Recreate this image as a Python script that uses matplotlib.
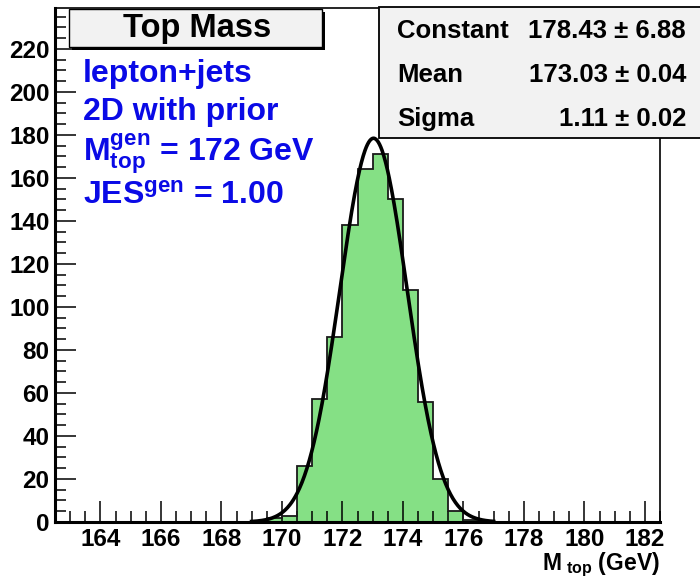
import matplotlib
matplotlib.use('Agg')
import matplotlib.pyplot as plt
from matplotlib.patches import Rectangle
from matplotlib.ticker import MultipleLocator
import numpy as np

# histogram binning and contents
bin_lo = 162.5
bin_hi = 182.5
n_bins = 40
counts = [0, 0, 0, 0, 0, 0, 0, 0, 0, 0,
          0, 0, 0, 0, 2, 3, 26, 57, 86, 138,
          164, 171, 150, 108, 56, 20, 5, 1, 0, 0,
          0, 0, 0, 0, 0, 0, 0, 0, 0, 0]

# gaussian fit result shown in the stats box
fit_const = 178.43
fit_const_err = 6.88
fit_mean = 173.03
fit_mean_err = 0.04
fit_sigma = 1.11
fit_sigma_err = 0.02
fit_range = (169.0, 177.0)

info_lines = ['lepton+jets', '2D with prior',
              r'M$^{\mathrm{gen}}_{\mathrm{top}}$ = 172 GeV',
              r'JES$^{\mathrm{gen}}$ = 1.00']

plt.rcParams['font.family'] = ['Liberation Sans', 'DejaVu Sans']
plt.rcParams['font.weight'] = 'bold'
plt.rcParams['mathtext.fontset'] = 'custom'
plt.rcParams['mathtext.rm'] = 'Liberation Sans:bold'
plt.rcParams['mathtext.it'] = 'Liberation Sans:bold'
plt.rcParams['mathtext.bf'] = 'Liberation Sans:bold'

W, H = 700, 578
fig = plt.figure(figsize=(W / 100, H / 100), dpi=100)


def fx(x):
    return x / W


def fy(y):
    return 1 - y / H


ax = fig.add_axes([fx(55), fy(522), fx(660) - fx(55), fy(8) - fy(522)])

edges = np.linspace(bin_lo, bin_hi, n_bins + 1)
ax.stairs(counts, edges, fill=True, color='#85e085', zorder=1)
ax.stairs(counts, edges, color='#1a1a1a', lw=1.3, zorder=2)

xf = np.linspace(fit_range[0], fit_range[1], 400)
yf = fit_const * np.exp(-0.5 * ((xf - fit_mean) / fit_sigma) ** 2)
ax.plot(xf, yf, color='black', lw=2.6, zorder=3)

ax.set_xlim(bin_lo, bin_hi)
ax.set_ylim(0, 239)
ax.xaxis.set_major_locator(MultipleLocator(2))
ax.xaxis.set_minor_locator(MultipleLocator(0.5))
ax.yaxis.set_major_locator(MultipleLocator(20))
ax.yaxis.set_minor_locator(MultipleLocator(5))
ax.tick_params(which='both', direction='in', top=False, right=False, width=1.1)
ax.tick_params(which='major', length=15, labelsize=17.5)
ax.tick_params(axis='x', which='major', pad=4)
ax.tick_params(axis='y', which='major', pad=4)
ax.tick_params(which='minor', length=8)
for s in ['left', 'bottom']:
    ax.spines[s].set_linewidth(2.2)
for s in ['top', 'right']:
    ax.spines[s].set_linewidth(1.2)

fig.text(fx(660), fy(565), r'M$_{\mathrm{\ top}}$ (GeV)', ha='right', va='center', fontsize=16.5)

# title box with shadow
fig.add_artist(Rectangle((fx(72), fy(50)), fx(325) - fx(72), fy(12) - fy(50),
                         transform=fig.transFigure, facecolor='black', edgecolor='none', zorder=5))
fig.add_artist(Rectangle((fx(69), fy(47)), fx(322) - fx(69), fy(9) - fy(47),
                         transform=fig.transFigure, facecolor='#f2f2f2', edgecolor='black',
                         lw=1.0, zorder=6))
fig.text(fx(197), fy(29), 'Top Mass', ha='center', va='center', fontsize=23.5, zorder=7)

# blue info text
baselines = [82, 120, 160, 204]
for line, yb in zip(info_lines, baselines):
    fig.text(fx(83), fy(yb), line, ha='left', va='baseline', fontsize=23, color='#0a0ae6')

# stats box
fig.add_artist(Rectangle((fx(379), fy(138)), fx(710) - fx(379), fy(7) - fy(138),
                         transform=fig.transFigure, facecolor='#f2f2f2', edgecolor='black',
                         lw=1.3, zorder=5))
stat_rows = [('Constant', fit_const, fit_const_err),
             ('Mean', fit_mean, fit_mean_err),
             ('Sigma', fit_sigma, fit_sigma_err)]
for (name, val, err), yb in zip(stat_rows, [38, 82, 126]):
    fig.text(fx(397), fy(yb), name, ha='left', va='baseline', fontsize=18.5, zorder=7)
    fig.text(fx(686), fy(yb), f'{val:.2f} \u00b1 {err:.2f}', ha='right', va='baseline',
             fontsize=18.5, zorder=7)

fig.savefig('out.png', dpi=100)
